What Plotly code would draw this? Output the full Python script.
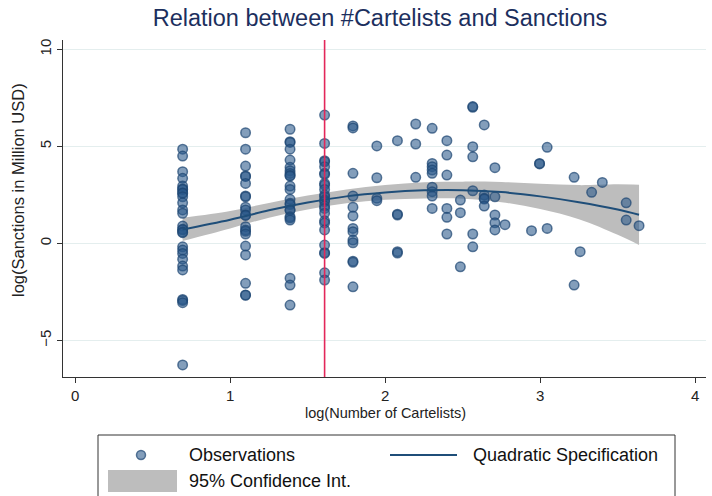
import plotly.graph_objects as go

# ---------------- data ----------------
# x positions of the observation columns: log(number of cartelists)
col_x = [0.693, 1.099, 1.386, 1.609, 1.792, 1.946, 2.079, 2.197, 2.303, 2.398,
         2.485, 2.565, 2.639, 2.708, 2.773, 2.944, 2.996, 3.045, 3.219, 3.258,
         3.332, 3.401, 3.555, 3.638]

# log(sanctions) values in each column
col_y = [
    [4.85, 4.50, 3.69, 3.35, 2.95, 2.80, 2.78, 2.60, 2.58, 2.40, 2.09, 1.72, 1.55,
     0.89, 0.72, 0.70, 0.58, 0.55, -0.18, -0.35, -0.52, -0.82, -1.17, -1.37,
     -2.89, -2.95, -3.06, -6.27],
    [5.70, 4.85, 3.98, 3.47, 3.45, 3.09, 2.44, 2.40, 1.86, 1.72, 1.46, 1.44, 0.86,
     0.69, 0.62, 0.48, -0.14, -0.60, -2.06, -2.66, -2.68],
    [5.88, 5.24, 5.20, 4.85, 4.29, 3.92, 3.74, 3.60, 3.50, 3.47, 2.95, 2.78, 2.27,
     2.06, 2.00, 1.72, 1.70, 1.37, 1.30, 1.20, -1.80, -2.15, -3.18],
    [6.61, 5.15, 4.26, 4.20, 3.95, 3.61, 3.55, 3.09, 3.00, 2.78, 2.49, 2.40, 2.23,
     2.15, 1.92, 1.80, 1.55, 1.16, 1.05, 0.69, -0.09, -0.48, -0.52, -1.52, -1.89],
    [6.05, 5.95, 3.61, 2.44, 1.86, 1.41, 0.77, 0.60, 0.17, 0.03, -0.92, -0.98, -2.24],
    [5.02, 3.38, 2.32, 2.20],
    [5.29, 1.46, 1.50, -0.43, -0.50],
    [6.15, 5.12, 3.40],
    [5.93, 4.12, 3.95, 3.78, 3.61, 2.89, 2.66, 2.44, 1.80],
    [5.29, 4.55, 3.52, 1.80, 1.34, 0.48],
    [2.23, 1.58, -1.21],
    [7.01, 7.05, 4.98, 4.46, 2.71, 0.48, -0.18],
    [6.10, 2.49, 2.32, 2.28, 1.92],
    [3.90, 2.40, 1.46, 1.06, 0.69],
    [0.96],
    [0.65],
    [4.09, 4.12],
    [4.95, 0.77],
    [3.40, -2.15],
    [-0.43],
    [2.63],
    [3.14],
    [2.09, 1.20],
    [0.91],
]

# quadratic fit and its 95% confidence band
fit_x = [0.693, 1.0, 1.25, 1.5, 1.75, 2.0, 2.25, 2.5, 2.75, 3.0, 3.25, 3.5, 3.638]
fit_y = [0.72, 1.22, 1.70, 2.10, 2.42, 2.62, 2.73, 2.74, 2.64, 2.42, 2.12, 1.74, 1.47]
ci_lower = [0.12, 0.77, 1.32, 1.74, 2.06, 2.24, 2.31, 2.30, 2.12, 1.77, 1.24, 0.44, -0.08]
ci_upper = [1.32, 1.67, 2.08, 2.46, 2.78, 3.00, 3.15, 3.18, 3.16, 3.07, 3.00, 3.04, 3.02]

cutoff_x = 1.609  # log(5)

title_text = "Relation between #Cartelists and Sanctions"
x_title = "log(Number of Cartelists)"
y_title = "log(Sanctions in Million USD)"
x_ticks = [0, 1, 2, 3, 4]
y_ticks = [-5, 0, 5, 10]
legend_labels = ["Observations", "Quadratic Specification", "95% Confidence Int."]

# ---------------- figure ----------------
obs_x = [cx for cx, ys in zip(col_x, col_y) for _ in ys]
obs_y = [v for ys in col_y for v in ys]

FONT = "Liberation Sans, Arial, sans-serif"
BLUE = "#1f4e79"
MARK_FILL = "rgba(42,88,138,0.58)"
MARK_LINE = "rgba(30,70,115,0.72)"
FIG_W, FIG_H = 712, 496

fig = go.Figure()
fig.add_trace(go.Scatter(x=fit_x, y=ci_lower, mode="lines", line=dict(width=0, shape="spline"),
                         hoverinfo="skip", showlegend=False))
fig.add_trace(go.Scatter(x=fit_x, y=ci_upper, mode="lines", line=dict(width=0, shape="spline"),
                         fill="tonexty", fillcolor="#bdbdbd", hoverinfo="skip", showlegend=False))
fig.add_trace(go.Scatter(x=obs_x, y=obs_y, mode="markers",
                         marker=dict(size=9.5, color=MARK_FILL, line=dict(color=MARK_LINE, width=1.5)),
                         showlegend=False))
fig.add_trace(go.Scatter(x=fit_x, y=fit_y, mode="lines",
                         line=dict(color=BLUE, width=2, shape="spline"), showlegend=False))

fig.add_shape(type="line", x0=cutoff_x, x1=cutoff_x, xref="x", yref="paper", y0=0, y1=1,
              line=dict(color="#e3275a", width=1.6))

# plot area in window pixels
L, R, T, B = 63, 706, 40, 377
def px(x):
    return (x - L) / (R - L)
def py(y):
    return (B - y) / (B - T)

# axis titles
fig.add_annotation(text=x_title, xref="paper", yref="paper", x=px(385), y=py(413),
                   xanchor="center", yanchor="middle", showarrow=False,
                   font=dict(size=14.5, color="#222222", family=FONT))
fig.add_annotation(text=y_title, xref="paper", yref="paper", x=px(18), y=py(190),
                   xanchor="center", yanchor="middle", showarrow=False, textangle=-90,
                   font=dict(size=16.5, color="#222222", family=FONT))

# manual legend (Stata style)
fig.add_shape(type="rect", xref="paper", yref="paper", x0=px(98), x1=px(675), y0=py(515), y1=py(435),
              line=dict(color="#333333", width=1), fillcolor="white", layer="above")
fig.add_shape(type="circle", xref="paper", yref="paper", x0=px(136.5), x1=px(145.5),
              y0=py(459.5), y1=py(450.5), fillcolor=MARK_FILL,
              line=dict(color=MARK_LINE, width=1.5))
fig.add_shape(type="line", xref="paper", yref="paper", x0=px(390), x1=px(457),
              y0=py(455), y1=py(455), line=dict(color=BLUE, width=2))
fig.add_shape(type="rect", xref="paper", yref="paper", x0=px(108), x1=px(177),
              y0=py(492), y1=py(470), fillcolor="#bdbdbd", line=dict(width=0))
for text, x, y in [(legend_labels[0], 187, 455), (legend_labels[1], 471, 455),
                   (legend_labels[2], 187, 481)]:
    fig.add_annotation(text=text, xref="paper", yref="paper", x=px(x), y=py(y),
                       xanchor="left", yanchor="middle", showarrow=False,
                       font=dict(size=18, color="#111111", family=FONT))

fig.update_layout(
    width=FIG_W, height=FIG_H,
    margin=dict(l=L, r=FIG_W - R, t=T, b=FIG_H - B, autoexpand=False),
    paper_bgcolor="white", plot_bgcolor="white",
    font=dict(family=FONT, color="#222222"),
    title=dict(text=title_text, x=380 / FIG_W, xanchor="center",
               y=1 - 18 / FIG_H, yanchor="middle",
               font=dict(size=23.5, color="#1c2f5e", family=FONT)),
    showlegend=False,
)
fig.update_xaxes(range=[-0.079, 4.07], tickvals=x_ticks, ticks="outside", ticklen=5,
                 tickcolor="#333333", showline=True, linecolor="#333333", linewidth=1,
                 showgrid=False, zeroline=False, tickfont=dict(size=15), automargin=False)
fig.update_yaxes(range=[-6.89, 10.48], tickvals=y_ticks, tickangle=-90, ticks="outside",
                 ticklen=5, tickcolor="#333333", showline=True, linecolor="#333333",
                 linewidth=1, showgrid=True, gridcolor="#e4eeee", gridwidth=1,
                 zeroline=False, tickfont=dict(size=15), ticklabelstandoff=0,
                 automargin=False)

# remove the page's default 8px body margin so the figure fills the window
fig.write_html("out.html", config={"displayModeBar": False},
               post_script="document.body.style.margin='0px';")
